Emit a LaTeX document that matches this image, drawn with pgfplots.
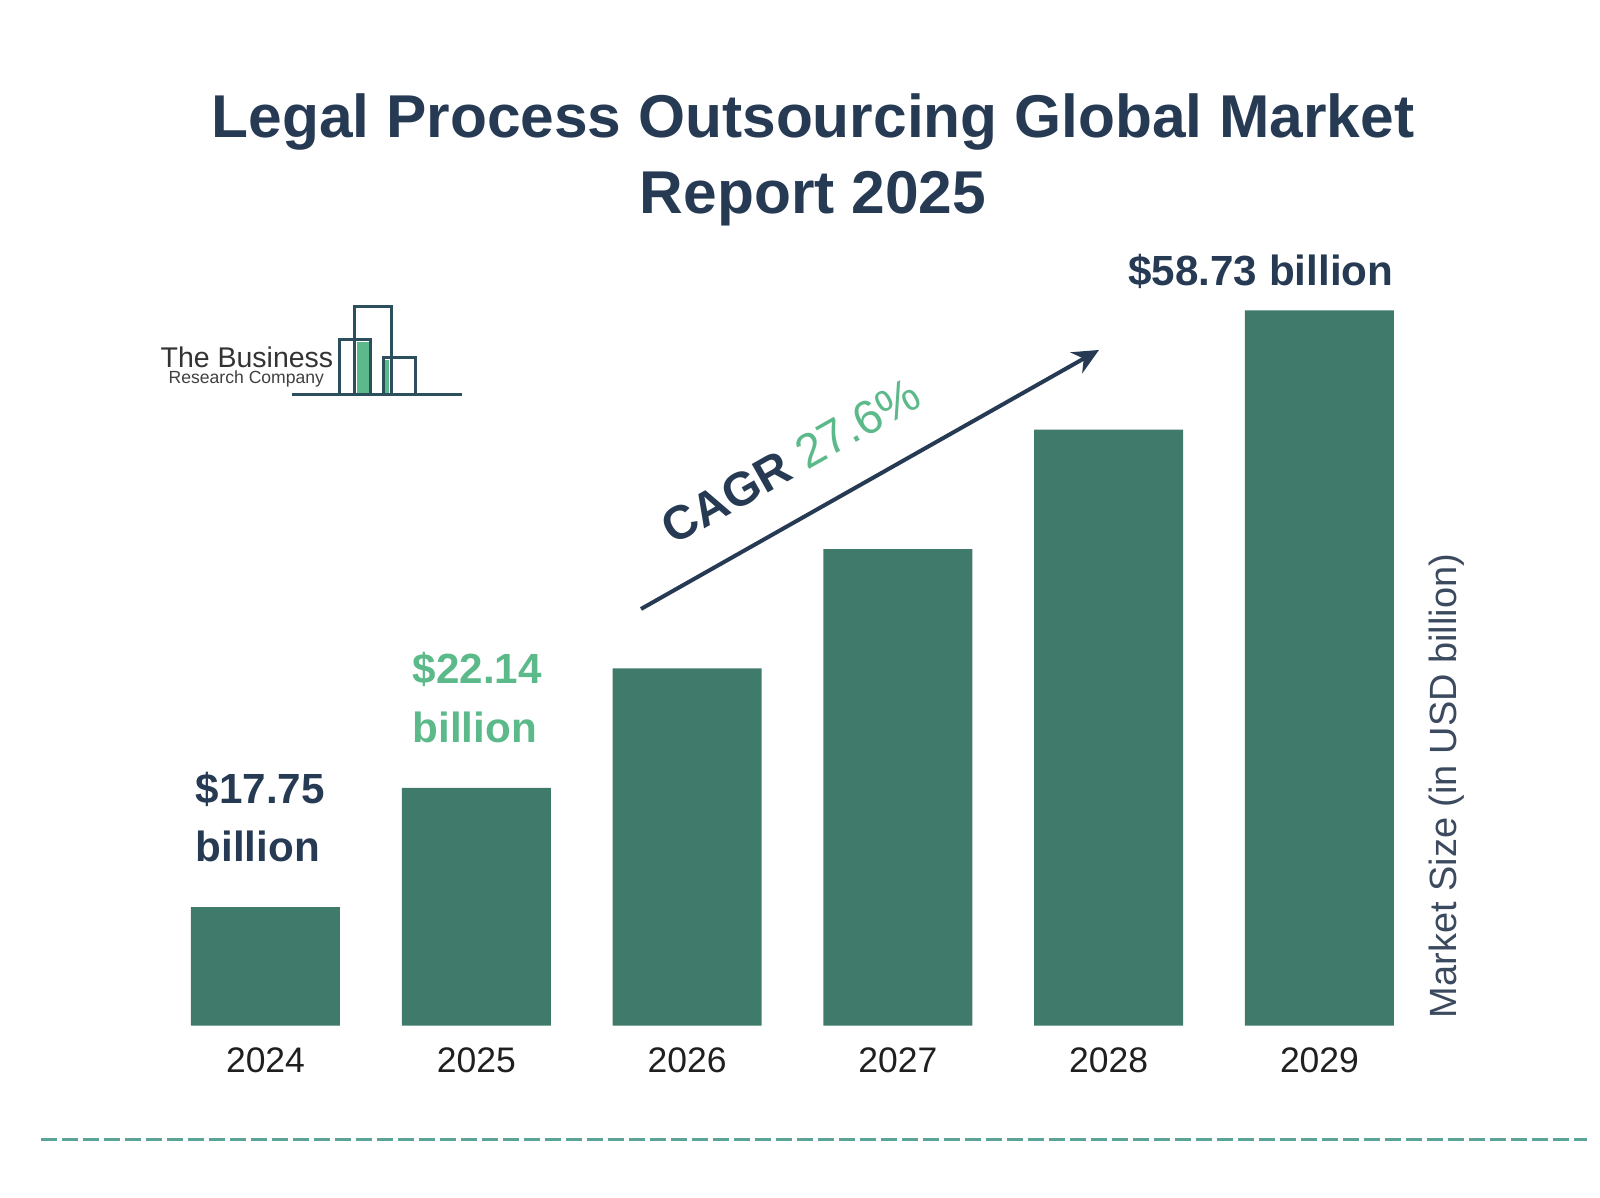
\documentclass[border=0pt]{standalone}
\usepackage{fontspec}
\setmainfont{Liberation Sans}
\usepackage{pgfplots}
\pgfplotsset{compat=1.18}
\usetikzlibrary{arrows.meta}
\definecolor{barc}{HTML}{407A6B}
\definecolor{navy}{HTML}{263A53}
\definecolor{accgreen}{HTML}{5CB98A}
\definecolor{logoline}{HTML}{2B4F5C}
\definecolor{ylab}{HTML}{3B4A5E}
\definecolor{dashc}{HTML}{5AA396}
\begin{document}
\begin{tikzpicture}[x=0.1mm,y=0.1mm]
\useasboundingbox (0,0) rectangle (1600,1198);
\begin{axis}[
  at={(16.01mm,17.24mm)}, anchor=south west,
  width=126.48mm, height=80mm, scale only axis,
  xmin=-0.5, xmax=5.5, ymin=0, ymax=800,
  axis line style={draw=none}, tick style={draw=none},
  ytick=\empty, xtick=data,
  xticklabels={2024,2025,2026,2027,2028,2029},
  xticklabel style={anchor=base, yshift=-3.22mm, font=\fontsize{10.1}{12}\selectfont, text=black!88},
  ybar, bar width=14.9mm, clip=false]
\addplot[fill=barc, draw=none] coordinates {(0,118.4) (1,237.8) (2,357.1) (3,476.5) (4,595.9) (5,715.3)};
\end{axis}
% title
\node[anchor=base, text=navy, font=\fontsize{17.2}{21}\selectfont\bfseries] at (813,1060) {Legal Process Outsourcing Global Market};
\node[anchor=base, text=navy, font=\fontsize{17.2}{21}\selectfont\bfseries] at (813,984) {Report 2025};
% value labels
\node[anchor=base west, inner sep=0, text=navy, font=\fontsize{12}{15}\selectfont\bfseries] at (195,394) {\$17.75};
\node[anchor=base west, inner sep=0, text=navy, font=\fontsize{12}{15}\selectfont\bfseries] at (195,336) {billion};
\node[anchor=base west, inner sep=0, text=accgreen, font=\fontsize{12}{15}\selectfont\bfseries] at (412,514) {\$22.14};
\node[anchor=base west, inner sep=0, text=accgreen, font=\fontsize{12}{15}\selectfont\bfseries] at (412,455) {billion};
\node[anchor=base east, inner sep=0, text=navy, font=\fontsize{12}{15}\selectfont\bfseries] at (1394,912) {\$58.73 billion};
% CAGR arrow
\draw[navy, line width=0.4mm, -{Stealth[length=2.6mm,width=2.4mm]}] (641,589) -- (1099,848);
\node[rotate=29.5, font=\fontsize{13.5}{16}\selectfont] at (791,737) {\textcolor{navy}{\bfseries CAGR}\ \textcolor{accgreen}{27.6\%}};
% y label
\node[rotate=90, text=ylab, font=\fontsize{10.8}{13}\selectfont] at (1447,412) {Market Size (in USD billion)};
% logo
\fill[accgreen] (357,856) rectangle (370,805);
\fill[accgreen] (384,838) rectangle (389,805);
\draw[logoline, line width=0.3mm] (292,803) -- (339,803) -- (339,858) -- (370,858) -- (370,803);
\draw[logoline, line width=0.3mm] (354,803) -- (354,891) -- (391,891) -- (391,803);
\draw[logoline, line width=0.3mm] (383,803) -- (383,840) -- (415,840) -- (415,803) -- (462,803);
\draw[logoline, line width=0.3mm] (339,803) -- (415,803);
\node[anchor=base west, inner sep=0, text=black!80, font=\fontsize{8.1}{10}\selectfont] at (160,830) {The Business};
\node[anchor=base west, inner sep=0, text=black!75, font=\fontsize{5}{6}\selectfont] at (168,814) {Research Company};
% bottom dashed rule
\draw[dashc, line width=0.3mm, dash pattern=on 1.6mm off 0.5mm] (41,58) -- (1587,58);
\end{tikzpicture}
\end{document}
